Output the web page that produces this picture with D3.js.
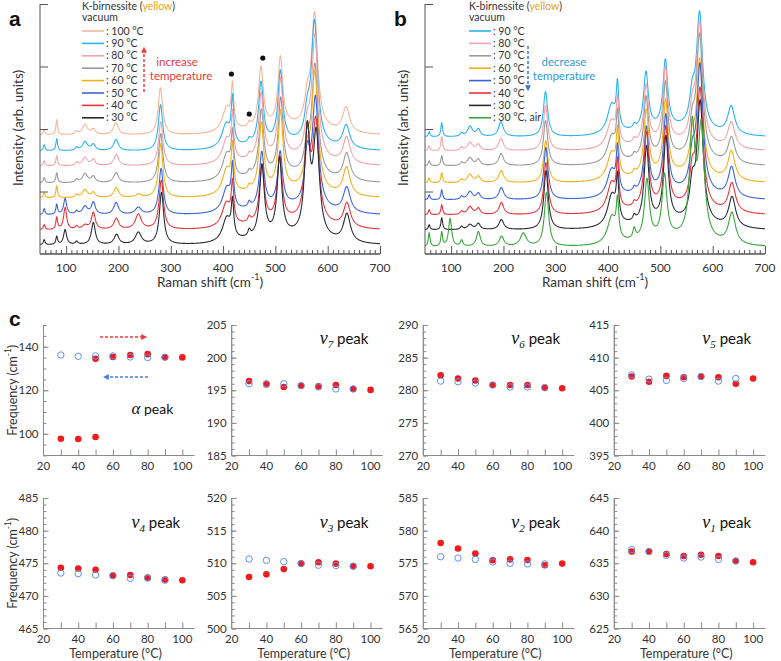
<!DOCTYPE html>
<html><head><meta charset="utf-8">
<script src="https://cdn.jsdelivr.net/npm/d3@7"></script>
<style>
body{margin:0;background:#fff;}
svg{display:block;font-family:Lato,"Open Sans",sans-serif;}
</style></head><body>
<svg id="chart" width="781" height="661"></svg>
<script>
// ================= DATA =================
// Raman spectra: peak model
const ramanDomain = [50, 700];
const ramanTickLabels = [100, 200, 300, 400, 500, 600, 700];
const peakCenters = [58, 82, 98, 120, 136, 152, 197, 238, 282, 407, 418, 450, 474, 510, 561, 577, 637];
const peakWidths  = [2, 2, 3.5, 3, 6, 4.5, 5.5, 7, 5, 10, 2.8, 3, 5.5, 5.5, 6, 7, 8];
const bgCenter = 520, bgSigma = 65, bgHeight = 8;

// panel a (heating)
const labelsA = ["100 °C", "90 °C", "80 °C", "70 °C", "60 °C", "50 °C", "40 °C", "30 °C"];
const colorsA = ["#f7b597", "#2cb2f0", "#f3a3a8", "#9a9a9a", "#f2b11c", "#3c64d8", "#e8343a", "#2b2b38"];
const offsetsA = [119, 103, 88, 71, 56, 39, 24, 9];
const heightsA = [
  [5, 15, 0, 3, 10, 5, 12, 0, 47, 24, 40, 4, 60, 68, 24, 113, 25],
  [6, 12, 0, 3, 9, 6, 11, 0, 46, 24, 44, 4, 61, 70, 24, 121, 23],
  [5, 10, 0, 3, 8, 6, 11, 0, 44, 24, 42, 4, 65, 77, 26, 122, 26],
  [5, 10, 0, 3, 9, 6, 10, 0, 49, 26, 40, 4, 65, 75, 28, 109, 27],
  [5, 12, 0, 3, 8, 5, 10, 3, 54, 26, 42, 4, 67, 77, 30, 117, 28],
  [6, 10, 16, 3, 8, 12, 12, 7, 46, 24, 40, 5, 55, 53, 48, 107, 25],
  [5, 12, 22, 3, 4, 17, 11, 15, 49, 24, 38, 5, 57, 63, 85, 97, 24],
  [5, 8, 15, 3, 0, 22, 10, 12, 52, 24, 34, 6, 71, 76, 102, 100, 28]
];
// panel b (cooling)
const labelsB = ["90 °C", "80 °C", "70 °C", "60 °C", "50 °C", "40 °C", "30 °C", "30 °C, air"];
const colorsB = ["#2cb2f0", "#f3a3a8", "#9a9a9a", "#f2b11c", "#3c64d8", "#e8343a", "#2b2b38", "#3aa53c"];
const offsetsB = [117, 103, 88, 71, 54, 39, 24, 7];
const heightsB = [
  [5, 14, 0, 3, 10, 7, 15, 0, 45, 29, 42, 4, 57, 67, 28, 115, 28],
  [5, 14, 0, 3, 8, 6, 12, 0, 45, 27, 42, 4, 58, 74, 28, 119, 26],
  [5, 10, 0, 3, 8, 6, 12, 0, 45, 27, 42, 4, 61, 74, 28, 122, 26],
  [5, 10, 0, 3, 8, 6, 12, 0, 42, 27, 42, 4, 65, 73, 28, 114, 29],
  [5, 10, 0, 3, 8, 6, 12, 0, 52, 27, 42, 4, 65, 75, 30, 126, 30],
  [5, 10, 0, 3, 8, 6, 12, 0, 52, 29, 42, 4, 74, 78, 30, 117, 29],
  [5, 12, 0, 3, 5, 6, 10, 0, 59, 32, 40, 5, 75, 83, 32, 119, 30],
  [14, 14, 28, 6, 0, 15, 10, 13, 54, 27, 36, 10, 59, 62, 107, 109, 31]
];

// panel c: peak frequencies vs temperature
const tempsHeat = [30, 40, 50, 60, 70, 80, 90, 100];
const tempsCool = [30, 40, 50, 60, 70, 80, 90];
const tempTicks = [20, 40, 60, 80, 100];
const alphaHeatLow  = [97.7, 97.6, 98.5];
const alphaHeatHigh = [null, null, 134.5, 135.3, 136.2, 136.6, 135.2, 135.1];
const alphaCool = [136.2, 135.6, 135.8, 135.8, 135.3, 135.0, 135.2];
const v7Heat = [196.4, 195.9, 195.5, 195.7, 195.6, 195.8, 195.2, 195.05];
const v7Cool = [196.0, 196.0, 196.0, 195.7, 195.5, 195.2, 195.2];
const v6Heat = [282.3, 281.8, 281.5, 280.8, 280.8, 280.8, 280.4, 280.3];
const v6Cool = [281.4, 281.3, 281.1, 280.8, 280.5, 280.5, 280.4];
const v5Heat = [407.1, 406.3, 407.2, 407.0, 407.1, 407.0, 406.0, 406.8];
const v5Cool = [407.35, 406.7, 406.5, 406.8, 407.1, 406.4, 406.8];
const v4Heat = [474.3, 474.2, 474.0, 473.1, 473.2, 472.8, 472.5, 472.4];
const v4Cool = [473.5, 473.4, 473.2, 473.1, 472.7, 472.7, 472.4];
const v3Heat = [507.9, 508.3, 509.1, 509.95, 510.15, 509.95, 509.55, 509.55];
const v3Cool = [510.65, 510.45, 510.25, 509.95, 509.7, 509.65, 509.55];
const v2Heat = [578.1, 577.25, 576.5, 575.45, 575.6, 575.5, 574.7, 574.95];
const v2Cool = [576.0, 575.8, 575.6, 575.2, 575.0, 574.9, 574.9];
const v1Heat = [636.8, 636.8, 636.4, 636.1, 636.3, 636.1, 635.35, 635.15];
const v1Cool = [637.1, 636.8, 636.2, 635.8, 635.95, 635.6, 635.35];

// ================= DRAW =================
const svg = d3.select("#chart");
const axisCol = "#555", textCol = "#333";

const defs = svg.append("defs");
function marker(id, color) {
  defs.append("marker").attr("id", id).attr("viewBox", "0 0 10 10").attr("refX", 8).attr("refY", 5)
    .attr("markerWidth", 4).attr("markerHeight", 4).attr("orient", "auto-start-reverse")
    .append("path").attr("d", "M0,0 L10,5 L0,10 z").attr("fill", color);
}
marker("arRed", "#f03a3a"); marker("arBlue", "#3d72dc"); marker("arBlue2", "#4a7ee0");

const grid = d3.range(ramanDomain[0], ramanDomain[1] + 0.01, 0.5);
function spectrum(heights, centers) {
  return grid.map(x => {
    let s = bgHeight * Math.exp(-((x - bgCenter) ** 2) / (2 * bgSigma * bgSigma));
    for (let k = 0; k < heights.length; k++) {
      const d = (x - centers[k]) / peakWidths[k];
      s += heights[k] / (1 + d * d);
    }
    return [x, s];
  });
}
function centersFor(set, i) {
  const c = peakCenters.slice();
  if (i == null) return c;
  c[6] = set.v7[i]; c[8] = set.v6[i]; c[9] = set.v5[i]; c[12] = set.v4[i];
  c[13] = set.v3[i]; c[15] = set.v2[i]; c[16] = set.v1[i];
  return c;
}
const heatSet = {v7: v7Heat, v6: v6Heat, v5: v5Heat, v4: v4Heat, v3: v3Heat, v2: v2Heat, v1: v1Heat};
const coolSet = {v7: v7Cool, v6: v6Cool, v5: v5Cool, v4: v4Cool, v3: v3Cool, v2: v2Cool, v1: v1Cool};

function ramanPanel(opt) {
  const g = svg.append("g");
  const x = d3.scaleLinear().domain(ramanDomain).range([opt.x0, opt.x0 + 340]);
  const y = d3.scaleLinear().domain([0, 250]).range([254, 4]);
  const line = d3.line().x(d => x(d[0])).y(d => y(d[1]));
  // spectra, top first so lower ones are drawn over
  opt.heights.forEach((h, i) => {
    const data = spectrum(h, opt.centers(i)).map(d => [d[0], d[1] + opt.offsets[i]]);
    g.append("path").attr("d", line(data)).attr("fill", "none")
      .attr("stroke", opt.colors[i]).attr("stroke-width", 1.1).attr("stroke-linejoin", "round");
  });
  // x axis: minor & major ticks pointing up
  const xa = g.append("g").attr("transform", "translate(0,254)");
  xa.call(d3.axisTop(x).tickValues(d3.range(60, 701, 10).filter(v => v % 100)).tickSize(4).tickFormat(""));
  xa.append("g").call(d3.axisTop(x).tickValues(ramanTickLabels).tickSize(8).tickFormat(""));
  xa.selectAll("path.domain").attr("d", `M${opt.x0},0H${opt.x0 + 340}`);
  xa.selectAll("line,path").attr("stroke", axisCol).attr("stroke-width", 1);
  g.append("g").selectAll("text").data(ramanTickLabels).join("text")
    .attr("x", d => x(d)).attr("y", 272).attr("text-anchor", "middle")
    .attr("font-size", 12).attr("fill", textCol).text(d => d);
  // y axis with inward ticks
  const ya = g.append("g").attr("transform", `translate(${opt.x0},0)`)
    .call(d3.axisRight(y).tickValues([62.5, 125, 187.5, 250]).tickSize(8).tickFormat(""));
  ya.select("path.domain").attr("d", `M0,${y(250)}V254`);
  ya.selectAll("line,path").attr("stroke", axisCol).attr("stroke-width", 1);
  // titles
  const xt = g.append("text").attr("x", opt.x0 + 170).attr("y", 287).attr("text-anchor", "middle")
    .attr("font-size", 13.5).attr("fill", textCol);
  xt.append("tspan").text("Raman shift (cm");
  xt.append("tspan").attr("font-size", 9).attr("dy", -7).text("-1");
  xt.append("tspan").attr("dy", 7).text(")");
  g.append("text").attr("transform", `translate(${opt.x0 - 17},128) rotate(-90)`).attr("text-anchor", "middle")
    .attr("font-size", 13.5).attr("fill", textCol).text("Intensity (arb. units)");
  // panel letter
  g.append("text").attr("x", opt.letterX).attr("y", 26).attr("font-size", 21).attr("font-weight", "bold")
    .attr("font-family", "Liberation Sans, Arial, sans-serif").attr("fill", "#111").text(opt.letter);
  // legend
  const lx = opt.legendX;
  const hdr = g.append("text").attr("x", lx).attr("y", 10).attr("font-size", 10.5).attr("fill", textCol);
  hdr.append("tspan").text("K-birnessite (");
  hdr.append("tspan").attr("fill", "#e8a31c").text("yellow");
  hdr.append("tspan").text(")");
  g.append("text").attr("x", lx).attr("y", 21).attr("font-size", 10.5).attr("fill", textCol).text("vacuum");
  opt.labels.forEach((lab, i) => {
    const yy = 31 + i * 12.4;
    g.append("line").attr("x1", lx).attr("x2", lx + 22).attr("y1", yy).attr("y2", yy)
      .attr("stroke", opt.colors[i]).attr("stroke-width", 1.6);
    g.append("text").attr("x", lx + 24).attr("y", yy + 3.5).attr("font-size", 10.5).attr("fill", textCol).text(": " + lab);
  });
  return {x, y, g};
}

// ---- panel a ----
const pa = ramanPanel({
  x0: 40, letter: "a", letterX: 9, legendX: 82, labels: labelsA, colors: colorsA, offsets: offsetsA,
  heights: heightsA, centers: i => centersFor(heatSet, tempsHeat.indexOf(100 - i * 10))
});
pa.g.append("line").attr("x1", 144).attr("x2", 144).attr("y1", 92).attr("y2", 48)
  .attr("stroke", "#f03a3a").attr("stroke-width", 1.5).attr("stroke-dasharray", "3,2").attr("marker-end", "url(#arRed)");
pa.g.append("text").attr("x", 177).attr("y", 66).attr("text-anchor", "middle").attr("font-size", 11.5).attr("fill", "#e23b3b").text("increase");
pa.g.append("text").attr("x", 181).attr("y", 80).attr("text-anchor", "middle").attr("font-size", 11.5).attr("fill", "#e23b3b").text("temperature");
[[416, 74], [476, 58], [450, 114]].forEach(d => {
  pa.g.append("circle").attr("cx", pa.x(d[0])).attr("cy", d[1]).attr("r", 2.6).attr("fill", "#111");
});

// ---- panel b ----
const pb = ramanPanel({
  x0: 425, letter: "b", letterX: 394, legendX: 469, labels: labelsB, colors: colorsB, offsets: offsetsB,
  heights: heightsB, centers: i => i < 7 ? centersFor(coolSet, tempsCool.indexOf(90 - i * 10)) : centersFor(heatSet, 0)
});
pb.g.append("line").attr("x1", 528).attr("x2", 528).attr("y1", 46).attr("y2", 90)
  .attr("stroke", "#3d72dc").attr("stroke-width", 1.5).attr("stroke-dasharray", "3,2").attr("marker-end", "url(#arBlue)");
pb.g.append("text").attr("x", 564).attr("y", 66).attr("text-anchor", "middle").attr("font-size", 11.5).attr("fill", "#2d9ad8").text("decrease");
pb.g.append("text").attr("x", 564).attr("y", 80).attr("text-anchor", "middle").attr("font-size", 11.5).attr("fill", "#2d9ad8").text("temperature");

// ---- panel c ----
const colX = [43.5, 231.7, 423.3, 614.3];
const rowTop = [325, 498];
const plotH = 130.5, plotW = 151;
const cAxis = "#8a8a8a";
const subplots = [
  {col: 0, row: 0, dom: [90, 150], lab: [100, 120, 140], minor: 5, sym: "α", sub: null, heat: alphaHeatHigh, cool: alphaCool, low: alphaHeatLow},
  {col: 1, row: 0, dom: [185, 205], lab: [185, 190, 195, 200, 205], minor: 1, sym: "v", sub: "7", heat: v7Heat, cool: v7Cool},
  {col: 2, row: 0, dom: [270, 290], lab: [270, 275, 280, 285, 290], minor: 1, sym: "v", sub: "6", heat: v6Heat, cool: v6Cool},
  {col: 3, row: 0, dom: [395, 415], lab: [395, 400, 405, 410, 415], minor: 1, sym: "v", sub: "5", heat: v5Heat, cool: v5Cool},
  {col: 0, row: 1, dom: [465, 485], lab: [465, 470, 475, 480, 485], minor: 1, sym: "v", sub: "4", heat: v4Heat, cool: v4Cool},
  {col: 1, row: 1, dom: [500, 520], lab: [500, 505, 510, 515, 520], minor: 1, sym: "v", sub: "3", heat: v3Heat, cool: v3Cool},
  {col: 2, row: 1, dom: [565, 585], lab: [565, 570, 575, 580, 585], minor: 1, sym: "v", sub: "2", heat: v2Heat, cool: v2Cool},
  {col: 3, row: 1, dom: [625, 645], lab: [625, 630, 635, 640, 645], minor: 1, sym: "v", sub: "1", heat: v1Heat, cool: v1Cool}
];
subplots.forEach(sp => {
  const x0 = colX[sp.col], top = rowTop[sp.row], bot = top + plotH;
  const g = svg.append("g");
  const x = d3.scaleLinear().domain([20, 107]).range([x0, x0 + plotW]);
  const y = d3.scaleLinear().domain(sp.dom).range([bot, top]);
  // y axis
  const ya = g.append("g").attr("transform", `translate(${x0},0)`);
  ya.call(d3.axisRight(y).tickValues(d3.range(sp.dom[0], sp.dom[1] + 0.001, sp.minor)).tickSize(3).tickFormat(""));
  ya.append("g").call(d3.axisRight(y).tickValues(sp.lab).tickSize(5).tickFormat(""));
  ya.selectAll("path.domain").attr("d", `M0,${top}V${bot}`);
  ya.selectAll("line,path").attr("stroke", cAxis).attr("stroke-width", 1);
  g.append("g").selectAll("text").data(sp.lab).join("text")
    .attr("x", x0 - 5).attr("y", d => y(d) + 4).attr("text-anchor", "end")
    .attr("font-size", 11.5).attr("fill", textCol).text(d => d);
  // x axis
  const xa = g.append("g").attr("transform", `translate(0,${bot})`);
  xa.call(d3.axisTop(x).tickValues(d3.range(30, 101, 10)).tickSize(6).tickFormat(""));
  xa.selectAll("path.domain").attr("d", `M${x0},0H${x0 + plotW}`);
  xa.selectAll("line,path").attr("stroke", cAxis).attr("stroke-width", 1);
  g.append("g").selectAll("text").data(tempTicks).join("text")
    .attr("x", d => x(d)).attr("y", bot + 14).attr("text-anchor", "middle")
    .attr("font-size", 11.5).attr("fill", textCol).text(d => d);
  if (sp.row === 1) {
    g.append("text").attr("x", x0 + 72).attr("y", bot + 29.5).attr("text-anchor", "middle")
      .attr("font-size", 12.5).attr("fill", textCol).text("Temperature (°C)");
  }
  if (sp.col === 0) {
    const t = g.append("text").attr("transform", `translate(${x0 - 27},${(top + bot) / 2}) rotate(-90)`)
      .attr("text-anchor", "middle").attr("font-size", 12.5).attr("fill", textCol);
    t.append("tspan").text("Frequency (cm");
    t.append("tspan").attr("font-size", 8.5).attr("dy", -6).text("-1");
    t.append("tspan").attr("dy", 6).text(")");
  }
  // points: heating red filled, cooling blue open
  const heatPts = tempsHeat.map((t, i) => [t, sp.heat[i]]).filter(d => d[1] != null);
  if (sp.low) sp.low.forEach((v, i) => heatPts.push([tempsHeat[i], v]));
  g.append("g").selectAll("circle").data(heatPts).join("circle")
    .attr("cx", d => x(d[0])).attr("cy", d => y(d[1])).attr("r", 3.3).attr("fill", "#ee1c1c");
  g.append("g").selectAll("circle").data(tempsCool.map((t, i) => [t, sp.cool[i]])).join("circle")
    .attr("cx", d => x(d[0])).attr("cy", d => y(d[1])).attr("r", 3.2).attr("fill", "none")
    .attr("stroke", "#5f8ff0").attr("stroke-width", 1);
  // peak label
  const isAlpha = sp.sym === "α";
  const ly = isAlpha ? 414 : (sp.row === 0 ? 344 : 528);
  const lx = x0 + 88;
  const lt = g.append("text").attr("x", lx).attr("y", ly).attr("fill", "#111");
  lt.append("tspan").attr("font-family", "Liberation Serif, serif").attr("font-style", "italic").attr("font-size", isAlpha ? 17 : 18).text(sp.sym);
  if (sp.sub) lt.append("tspan").attr("font-family", "Liberation Serif, serif").attr("font-style", "italic")
    .attr("font-size", 11).attr("dy", 4).text(sp.sub);
  lt.append("tspan").attr("font-size", isAlpha ? 14 : 15).attr("dy", sp.sub ? -4 : 0).text(" peak");
});
// panel c letter and arrows
svg.append("text").attr("x", 9).attr("y", 326).attr("font-size", 21).attr("font-weight", "bold")
  .attr("font-family", "Liberation Sans, Arial, sans-serif").attr("fill", "#111").text("c");
svg.append("line").attr("x1", 100).attr("x2", 146).attr("y1", 337).attr("y2", 337)
  .attr("stroke", "#f03a3a").attr("stroke-width", 1.5).attr("stroke-dasharray", "3,2").attr("marker-end", "url(#arRed)");
svg.append("line").attr("x1", 148).attr("x2", 104).attr("y1", 377).attr("y2", 377)
  .attr("stroke", "#4a7ee0").attr("stroke-width", 1.5).attr("stroke-dasharray", "3,2").attr("marker-end", "url(#arBlue2)");
</script>
</body></html>
